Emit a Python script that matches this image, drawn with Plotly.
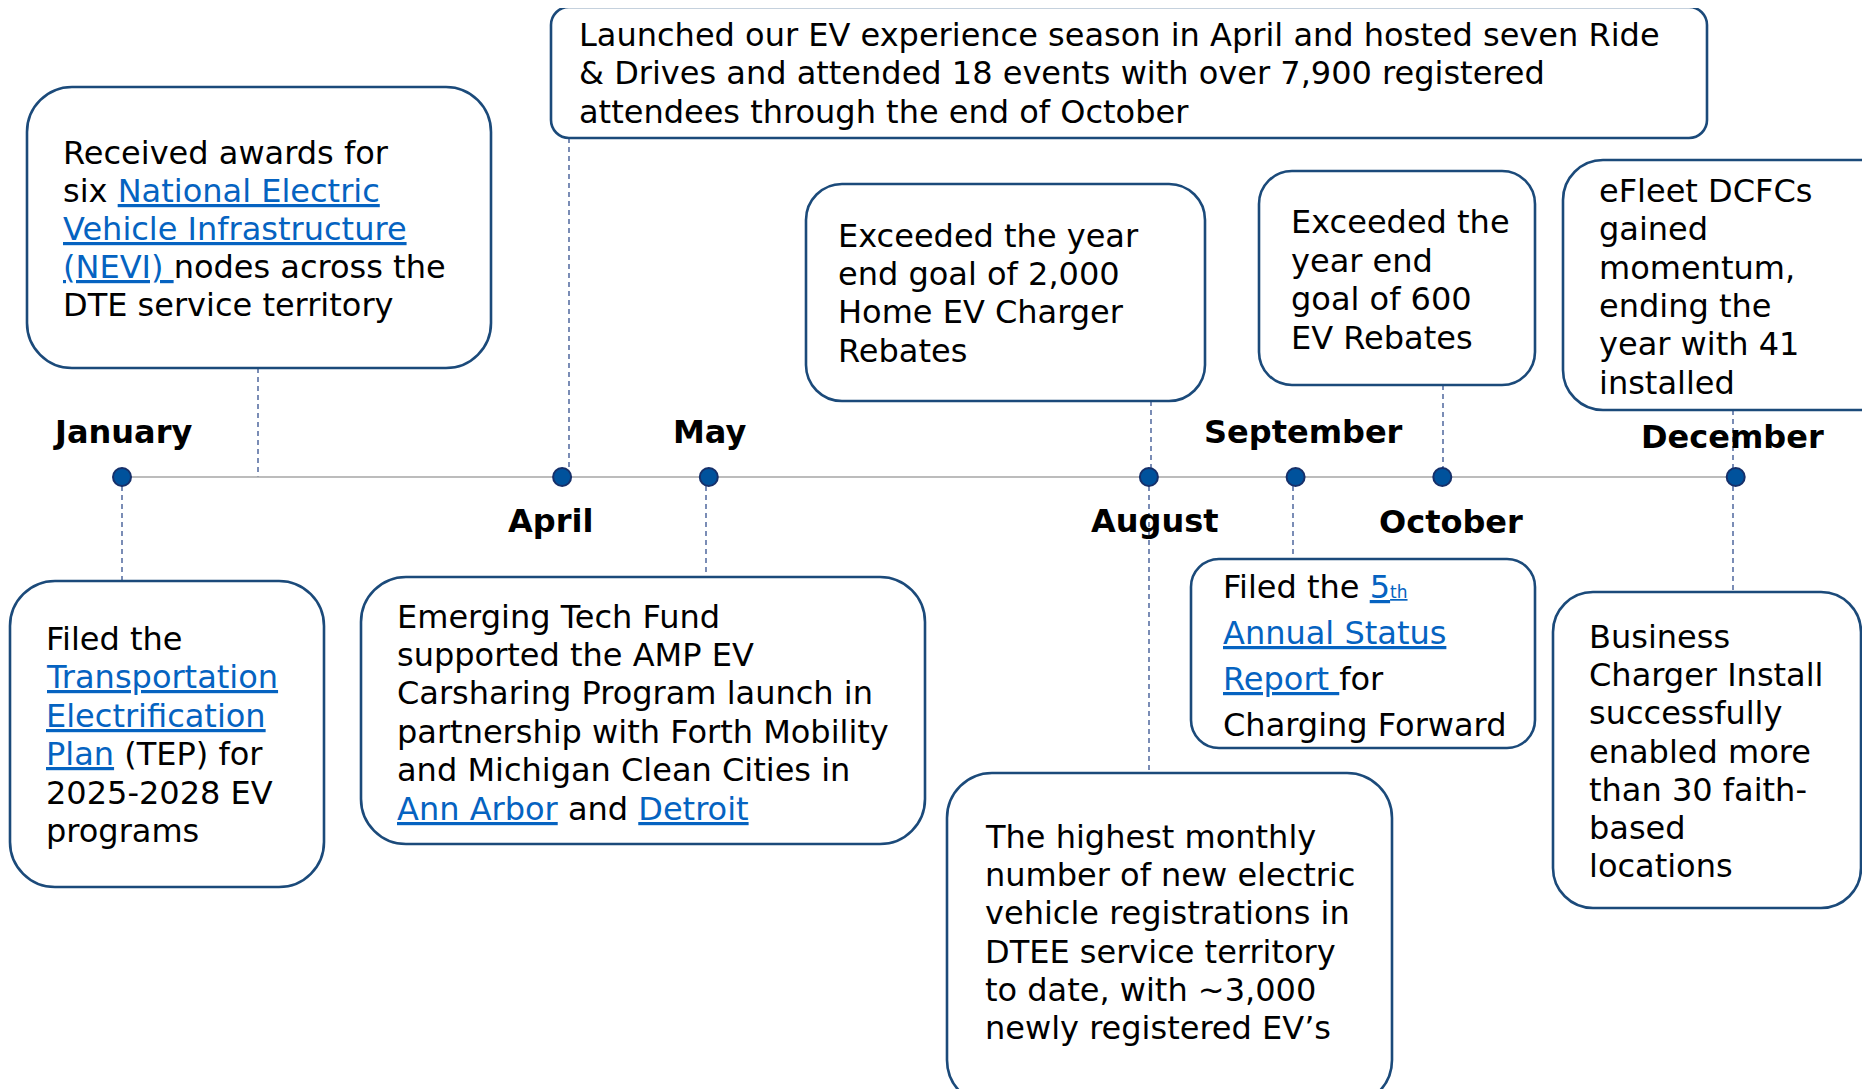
import plotly.graph_objects as go

# ---------------- data ----------------
months = [1, 4, 5, 8, 9, 10, 12]
month_labels = ["January", "April", "May", "August", "September", "October", "December"]
label_side = ["above", "below", "above", "below", "above", "below", "above"]

LINK_COLOR = "#0563C1"


def link(t):
    return f"<span style='color:{LINK_COLOR}'><u>{t}</u></span>"


ev_nevi = ["Received awards for",
           "six " + link("National Electric"),
           link("Vehicle Infrastructure"),
           link("(NEVI)\u00a0") + "nodes across the",
           "DTE service territory"]
ev_launch = ["Launched our EV experience season in April and hosted seven Ride",
             "& Drives and attended 18 events with over 7,900 registered",
             "attendees through the end of October"]
ev_home = ["Exceeded the year", "end goal of 2,000", "Home EV Charger", "Rebates"]
ev_rebate = ["Exceeded the", "year end", "goal of 600", "EV Rebates"]
ev_efleet = ["eFleet DCFCs", "gained", "momentum,", "ending the", "year with 41", "installed"]
ev_tep = ["Filed the", link("Transportation"), link("Electrification"),
          link("Plan") + " (TEP) for", "2025-2028 EV", "programs"]
ev_emerging = ["Emerging Tech Fund", "supported the AMP EV", "Carsharing Program launch in",
               "partnership with Forth Mobility", "and Michigan Clean Cities in",
               link("Ann Arbor") + " and " + link("Detroit")]
ev_status = ["Filed the " + link("5<span style='font-size:17px'>th</span>"), link("Annual Status"),
             link("Report\u00a0") + "for", "Charging Forward"]
ev_highest = ["The highest monthly", "number of new electric", "vehicle registrations in",
              "DTEE service territory", "to date, with ~3,000", "newly registered EV\u2019s"]
ev_business = ["Business", "Charger Install", "successfully", "enabled more",
               "than 30 faith-", "based", "locations"]

# ---------------- layout (pixel geometry of the 1870x1089 page) ----------------
# box: x0, y0, x1, y1, radius | text: left, first line centre, line step | connector: x, y_from, y_to
boxes = [
    (ev_nevi,     (27, 87, 491, 368, 45),    (61, 152.6, 38.2),  (258, 368, 477)),
    (ev_launch,   (551, 7, 1707, 138, 18),   (577, 34.6, 38.8),  (569, 138, 477)),
    (ev_home,     (806, 184, 1205, 401, 36), (836, 236, 38.2),   (1151, 401, 477)),
    (ev_rebate,   (1259, 171, 1535, 385, 33),(1289, 222, 38.5),  (1443, 385, 477)),
    (ev_efleet,   (1563, 160, 1905, 410, 40),(1597, 190.8, 38.4),(1733, 410, 477)),
    (ev_tep,      (10, 581, 324, 887, 45),   (44, 639, 38.4),    (122, 477, 581)),
    (ev_emerging, (361, 577, 925, 844, 45),  (395, 616.6, 38.4), (706, 477, 577)),
    (ev_status,   (1191, 559, 1535, 748, 28),(1221, 586.8, 46.1),(1293, 477, 559)),
    (ev_highest,  (947, 773, 1392, 1105, 45),(983, 837, 38.2),   (1149, 477, 773)),
    (ev_business, (1553, 592, 1861, 908, 40),(1587, 637, 38.2),  (1733, 477, 592)),
]

label_dx = [0, -12, 1, 6, 8, 9, -3]
label_dy = [45, -44, 45, -44, 45, -45, 40]

BORDER = "#1B4A7A"
DASH = "#34508F"
FONT = "DejaVu Sans, Verdana, sans-serif"
FS = 32

PAGE_W, PAGE_H = 1870, 1089
OFF = 8  # page body margin compensation (px)
W, H = PAGE_W - OFF, PAGE_H - OFF
PX_PER_MONTH = 146.7
X0_PX = 122.0 - OFF
TL_Y = 477 - OFF


def px(x):
    return (x - OFF) / W


def py(y):
    return 1 - (y - OFF) / H


def rounded_path(x0, y0, x1, y1, r):
    k = 0.5523 * r
    pts = [
        f"M {px(x0 + r)},{py(y0)}",
        f"L {px(x1 - r)},{py(y0)}",
        f"C {px(x1 - r + k)},{py(y0)} {px(x1)},{py(y0 + r - k)} {px(x1)},{py(y0 + r)}",
        f"L {px(x1)},{py(y1 - r)}",
        f"C {px(x1)},{py(y1 - r + k)} {px(x1 - r + k)},{py(y1)} {px(x1 - r)},{py(y1)}",
        f"L {px(x0 + r)},{py(y1)}",
        f"C {px(x0 + r - k)},{py(y1)} {px(x0)},{py(y1 - r + k)} {px(x0)},{py(y1 - r)}",
        f"L {px(x0)},{py(y0 + r)}",
        f"C {px(x0)},{py(y0 + r - k)} {px(x0 + r - k)},{py(y0)} {px(x0 + r)},{py(y0)}",
        "Z",
    ]
    return " ".join(pts)


fig = go.Figure()

# timeline
fig.add_trace(go.Scatter(
    x=[months[0], months[-1]], y=[0, 0], mode="lines",
    line=dict(color="#A6A6A6", width=1.6), hoverinfo="skip", showlegend=False))
# dots
fig.add_trace(go.Scatter(
    x=months, y=[0] * len(months), mode="markers",
    marker=dict(size=18, color="#00529C", line=dict(color="#16306A", width=2)),
    hoverinfo="skip", showlegend=False))

shapes = []
annotations = []

for lines, (x0, y0, x1, y1, r), (tl, ty, step), (cx, cy0, cy1) in boxes:
    shapes.append(dict(type="line", xref="paper", yref="paper",
                       x0=px(cx), x1=px(cx), y0=py(cy0), y1=py(cy1),
                       line=dict(color=DASH, width=1.3, dash="5px,4px"), layer="below"))

for lines, (x0, y0, x1, y1, r), (tl, ty, step), (cx, cy0, cy1) in boxes:
    shapes.append(dict(type="path", xref="paper", yref="paper",
                       path=rounded_path(x0, y0, x1, y1, r),
                       fillcolor="white", line=dict(color=BORDER, width=2.6), layer="above"))
    for i, ln in enumerate(lines):
        annotations.append(dict(
            xref="paper", yref="paper", x=px(tl), y=py(ty + i * step),
            xanchor="left", yanchor="middle", align="left", showarrow=False,
            text=ln, font=dict(family=FONT, size=FS, color="black")))

for m, lab, side, dx, dy in zip(months, month_labels, label_side, label_dx, label_dy):
    annotations.append(dict(
        x=m, y=dy, xref="x", yref="y", xshift=dx, showarrow=False,
        xanchor="center", yanchor="middle",
        text=f"<b>{lab}</b>", font=dict(family=FONT, size=32, color="black")))

m_lo = 1 - X0_PX / PX_PER_MONTH
m_hi = m_lo + W / PX_PER_MONTH

fig.update_layout(
    width=W, height=H,
    margin=dict(l=0, r=0, t=0, b=0),
    paper_bgcolor="white", plot_bgcolor="white",
    xaxis=dict(range=[m_lo, m_hi], visible=False, fixedrange=True),
    yaxis=dict(range=[-(H - TL_Y), TL_Y], visible=False, fixedrange=True),
    shapes=shapes, annotations=annotations, showlegend=False,
)

fig.write_html("out.html")
